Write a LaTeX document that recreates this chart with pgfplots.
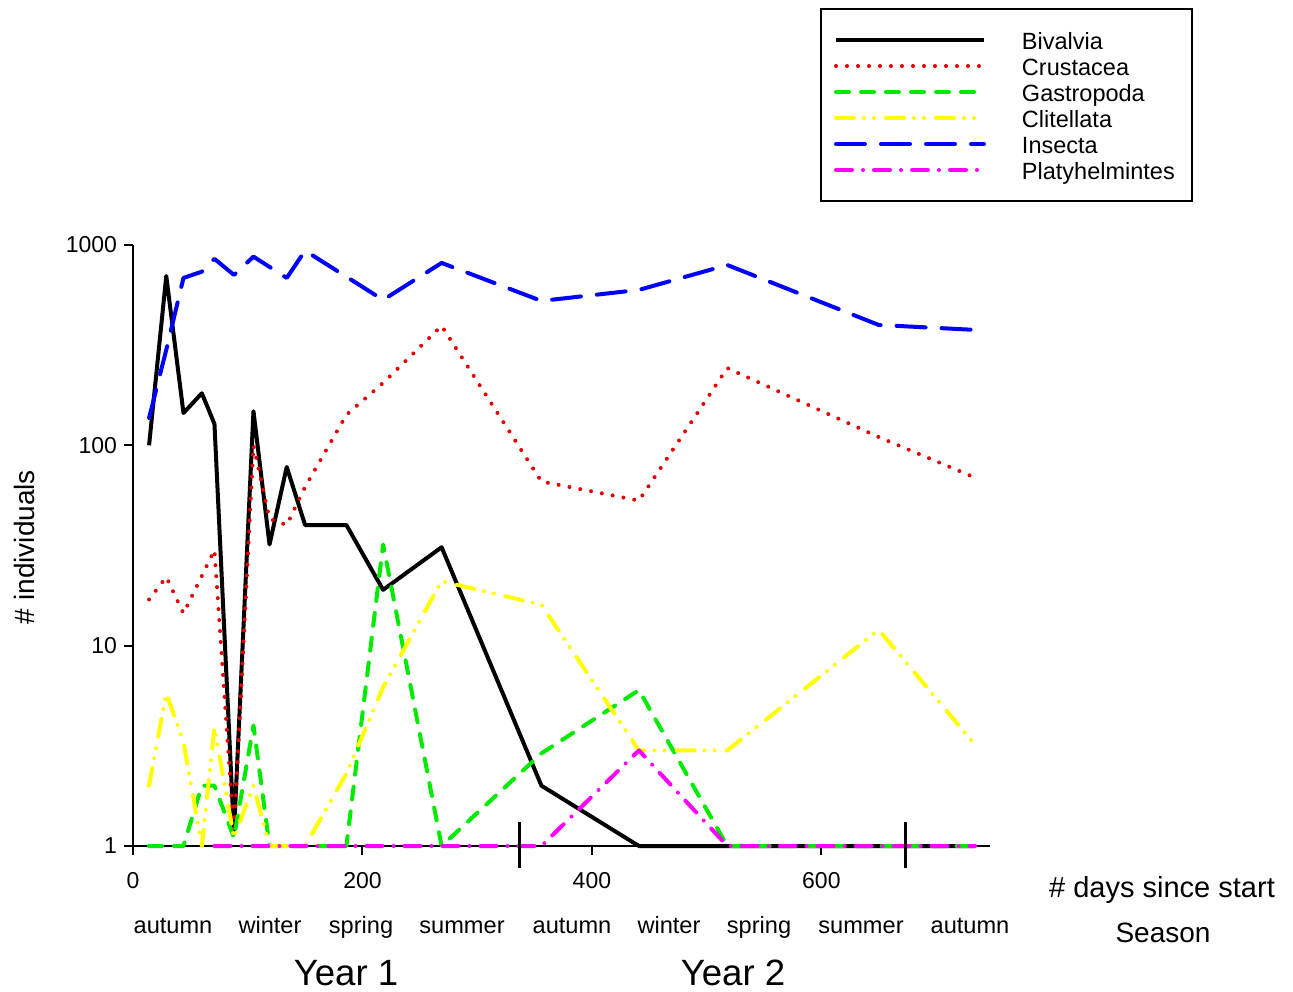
\documentclass[border=0pt]{standalone}
\usepackage{fontspec}
\setmainfont{Liberation Sans}
\usepackage{pgfplots}
\pgfplotsset{compat=1.18}
\definecolor{cRed}{RGB}{230,0,0}
\definecolor{cGreen}{RGB}{0,235,0}
\definecolor{cYellow}{RGB}{255,255,0}
\definecolor{cBlue}{RGB}{0,0,255}
\definecolor{cMag}{RGB}{255,0,255}
\begin{document}
\begin{tikzpicture}
\path[use as bounding box] (-66.5pt,-72.5pt) rectangle (580pt,423pt);
\begin{axis}[
  at={(0pt,0pt)}, anchor=south west,
  scale only axis, width=428.5pt, height=300.5pt,
  xmin=0, xmax=747, ymin=1, ymax=1000, ymode=log,
  axis x line=bottom, axis y line=left,
  axis line style={-, line width=1pt, black},
  xtick={0,200,400,600}, ytick={1,10,100,1000}, yticklabels={1,10,100,1000},
  yminorticks=false, xminorticks=false,
  tick align=outside, major tick length=4.5pt,
  tick style={line width=1pt, black},
  tick label style={font=\fontsize{11.5}{13}\selectfont},
  /pgf/number format/assume math mode=true,
  xticklabel style={yshift=-5pt},
  clip=false,
  legend cell align=left,
  legend image code/.code={\draw[#1] (1pt,0pt) -- (75pt,0pt); \path (0pt,0pt) (93pt,0pt);},
  legend style={at={(0.8016,1.3943)}, anchor=north west, draw=black, line width=1pt,
    inner xsep=5.5pt, inner ysep=10pt, row sep=2pt,
    nodes={inner sep=0pt, text height=10pt, text depth=1pt, text width=79.5pt, align=left, font=\fontsize{11.75}{13}\selectfont}},
  every axis plot/.append style={line width=2pt, line join=round},
]
\addplot[black, solid] table {
14 100
29 700
44 145
60 182
71 128
88 1.15
105 148
119 32
134 78
150 40
186 40
218 19
269 31
356 2
441 1
518 1
650 1
734 1
};
\addlegendentry{Bivalvia}
\addplot[cRed, line cap=round, dash pattern=on 0pt off 5.5pt] table {
14 17
29 22
44 14.5
71 30
88 1.15
105 100
119 43
134 40
150 62
186 142
218 205
269 395
356 66
441 53
518 243
650 110
734 69
};
\addlegendentry{Crustacea}
\addplot[cGreen, line cap=round, dash pattern=on 6.5pt off 6pt] table {
14 1
29 1
44 1
60 2
71 2
88 1.1
105 4
119 1
134 1
150 1
186 1
218 32
269 1
356 2.9
441 6
518 1
650 1
734 1
};
\addlegendentry{Gastropoda}
\addplot[cYellow, line cap=round, dash pattern=on 9pt off 5pt on 0pt off 5pt on 0pt off 6pt] table {
14 2
29 5.8
44 3.3
60 1
71 3.9
88 1.1
105 2
119 1
134 1
150 1
186 2.3
218 6.2
269 21
356 16
441 3
518 3
650 12
734 3.2
};
\addlegendentry{Clitellata}
\addplot[cBlue, line cap=round, dash pattern=on 14.5pt off 8pt] table {
14 137
29 300
44 685
60 736
71 853
88 709
105 875
134 685
150 937
218 532
269 814
356 526
441 597
518 795
650 399
734 377
};
\addlegendentry{Insecta}
\addplot[cMag, line cap=round, dash pattern=on 8pt off 5.5pt on 0pt off 5.5pt] table {
71 1
88 1
105 1
119 1
134 1
150 1
186 1
218 1
269 1
356 1
441 3
518 1
650 1
734 1
};
\addlegendentry{Platyhelmintes}
\addplot[black, line width=1.5pt, solid, forget plot] coordinates {(337,0.776) (337,1.318)};
\addplot[black, line width=1.5pt, solid, forget plot] coordinates {(673,0.776) (673,1.318)};
\end{axis}
\begin{scope}[every node/.style={anchor=base, inner sep=0pt, font=\fontsize{11.8}{14}\selectfont}]
\node at (20pt,-43.5pt) {autumn};
\node at (68.5pt,-43.5pt) {winter};
\node at (114pt,-43.5pt) {spring};
\node at (164.5pt,-43.5pt) {summer};
\node at (219.5pt,-43.5pt) {autumn};
\node at (268pt,-43.5pt) {winter};
\node at (313pt,-43.5pt) {spring};
\node at (364pt,-43.5pt) {summer};
\node at (418.5pt,-43.5pt) {autumn};
\end{scope}
\node[anchor=base, inner sep=0pt, font=\fontsize{14.5}{17}\selectfont] at (514.5pt,-25.75pt) {\# days since start};
\node[anchor=base, inner sep=0pt, font=\fontsize{14}{17}\selectfont] at (515pt,-48pt) {Season};
\node[anchor=base, inner sep=0pt, font=\fontsize{18.3}{22}\selectfont] at (106.5pt,-69.5pt) {Year 1};
\node[anchor=base, inner sep=0pt, font=\fontsize{18.3}{22}\selectfont] at (300pt,-69.5pt) {Year 2};
\node[rotate=90, anchor=base, inner sep=0pt, font=\fontsize{14}{17}\selectfont] at (-49pt,149.5pt) {\# individuals};
\end{tikzpicture}
\end{document}
